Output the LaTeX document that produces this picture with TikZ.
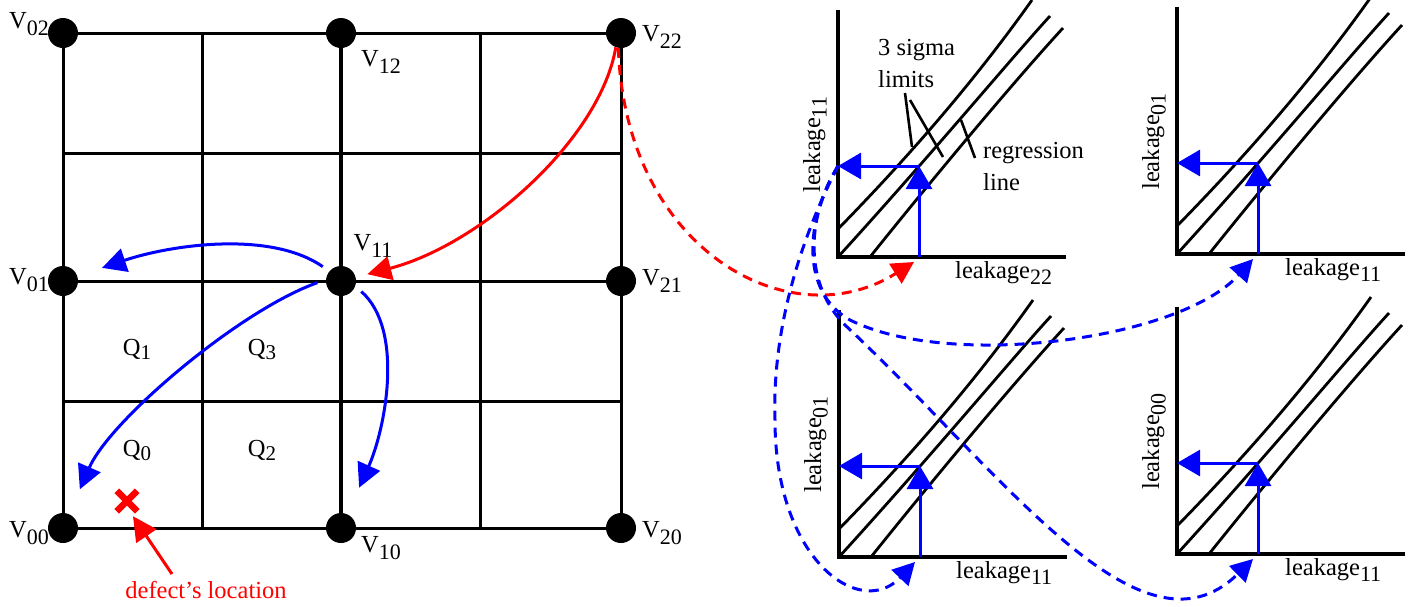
\documentclass[tikz,border=0pt]{standalone}
\usepackage{fontspec}
\setmainfont{Liberation Serif}
\usetikzlibrary{arrows.meta,shapes.misc}
\newcommand\lsub[1]{\raisebox{-6.5pt}{\fontsize{22}{22}\selectfont #1}}
\newcommand\qsub[1]{\raisebox{-4pt}{\fontsize{21}{21}\selectfont #1}}
\tikzset{
  pics/leakplot/.style n args={3}{code={
    \draw[axisline] (0,-247) coordinate (-top) -- (0,0) coordinate (-o) -- (228,0) coordinate (-right);
    \draw[fitline] (0,-28) .. controls (90,-120) and (150,-195) .. (194,-257);
    \draw[fitline] (0,0) .. controls (100,-110) and (170,-195) .. (212,-241);
    \draw[fitline] (32,0) .. controls (100,-85) and (180,-180) .. (225,-229);
    \coordinate (-pt) at (81,-91);
    \coordinate (-yt) at (0,-91);
    \coordinate (-xt) at (76,5);
    \coordinate (-base) at (81,0);
    \draw[plotarrow] (-base) -- (-pt);
    \draw[plotarrow] (-pt) -- (-yt);
    \node[rotate=90, anchor=base west] (-ylab) at (-18,-64) {leakage\lsub{#1}};
    \node[anchor=base west] (-xlab) at (#3,21) {leakage\lsub{#2}};
  }}
}
\begin{document}
\begin{tikzpicture}[x=1pt,y=-1pt,
  every node/.style={font=\fontsize{24.5}{32}\selectfont, inner sep=0pt},
  gridline/.style={line width=3pt},
  thickgrid/.style={line width=4.2pt},
  dot/.style={circle, fill=black, minimum size=30pt, inner sep=0pt},
  bluearrow/.style={blue, line width=3pt, -{Triangle[length=24pt,width=24pt]}},
  redarrow/.style={red, line width=3pt, -{Triangle[length=24pt,width=24pt]}},
  dashedconn/.style={line width=3pt, dash pattern=on 10pt off 7pt, -{Triangle[length=22pt,width=23pt]}},
  axisline/.style={line width=3.6pt},
  fitline/.style={line width=2.8pt},
  plotarrow/.style={blue, line width=3pt, -{Triangle[length=23pt,width=26pt]}},
  pointer/.style={line width=2.6pt},
]
\useasboundingbox (0,0) rectangle (1419,606);

% grid
\draw[gridline] (63,33) -- (621,33);
\draw[gridline] (63,153) -- (621,153);
\draw[gridline] (63,281) -- (621,281);
\draw[gridline] (63,401) -- (621,401);
\draw[gridline] (63,528) -- (621,528);
\draw[gridline] (63,33) -- (63,528);
\draw[gridline] (202,33) -- (202,528);
\draw[thickgrid] (341,33) -- (341,528);
\draw[gridline] (480,33) -- (480,528);
\draw[gridline] (621,33) -- (621,528);

\node[dot] (V00) at (63,528) {};
\node[dot] (V10) at (341,528) {};
\node[dot] (V20) at (621,528) {};
\node[dot] (V01) at (63,281) {};
\node[dot] (V11) at (341,281) {};
\node[dot] (V21) at (621,281) {};
\node[dot] (V02) at (63,33) {};
\node[dot] (V12) at (341,33) {};
\node[dot] (V22) at (621,33) {};

\node (lV02) at (29,24) {V\lsub{02}};
\node (lV12) at (381,62) {V\lsub{12}};
\node (lV22) at (662,37) {V\lsub{22}};
\node (lV01) at (29,280) {V\lsub{01}};
\node (lV11) at (373,246) {V\lsub{11}};
\node (lV21) at (662,281) {V\lsub{21}};
\node (lV00) at (29,533) {V\lsub{00}};
\node (lV10) at (381,548) {V\lsub{10}};
\node (lV20) at (662,533) {V\lsub{20}};

\node (Q1) at (137,349) {Q\qsub{1}};
\node (Q3) at (262,349) {Q\qsub{3}};
\node (Q0) at (137,450) {Q\qsub{0}};
\node (Q2) at (262,450) {Q\qsub{2}};

% defect
\node[cross out, draw=red, line width=6.5pt, minimum size=14pt] (defect) at (127,501) {};
\node[red] (deftext) at (206,590) {defect’s location};
\draw[redarrow] ([xshift=-34pt,yshift=7pt]deftext.north) -- ([xshift=6pt,yshift=-5pt]defect.south);

% grid arrows
\draw[redarrow, shorten >=12pt] (V22.-110) .. controls (600,140) and (480,245) .. (V11);
\draw[bluearrow, shorten <=8pt, shorten >=26pt] (V11.140) .. controls (270,230) and (170,245) .. (V01);
\draw[bluearrow, shorten <=9pt, shorten >=27pt] (V11.175) .. controls (240,310) and (110,420) .. (V00);
\draw[bluearrow, shorten <=8pt, shorten >=29pt] (V11.-20) .. controls (405,330) and (385,430) .. (V10);

% plots
\pic (p1) at (838,257) {leakplot={11}{22}{117}};
\pic (p2) at (1177,254) {leakplot={01}{11}{108}};
\pic (p3) at (839,557) {leakplot={01}{11}{117}};
\pic (p4) at (1177,554) {leakplot={00}{11}{108}};

\node[anchor=north west, align=left] (sigma) at (878,39) {3 sigma\\limits};
\draw[pointer] (905,93) -- (912,147);
\draw[pointer] (910,100) -- (943,157);
\node[anchor=north west, align=left] (regr) at (983,142) {regression\\line};
\draw[pointer] (975,158) -- (961,120);

% dashed connectors
\draw[red, dashedconn] (V22.-100) .. controls (625,250) and (790,340) .. (p1-xt);
\draw[blue, dashedconn] (p1-yt) .. controls (800,240) and (772,330) .. (775,420) .. controls (775,560) and (860,620) .. (p3-xt);
\draw[blue, dashedconn] (p1-yt) .. controls (805,220) and (800,292) .. (850,320) .. controls (950,370) and (1180,340) .. (p2-xt);
\draw[blue, dashedconn] (p1-yt) .. controls (805,220) and (805,285) .. (845,325) .. controls (1000,470) and (1140,670) .. (p4-xt);
\end{tikzpicture}
\end{document}
